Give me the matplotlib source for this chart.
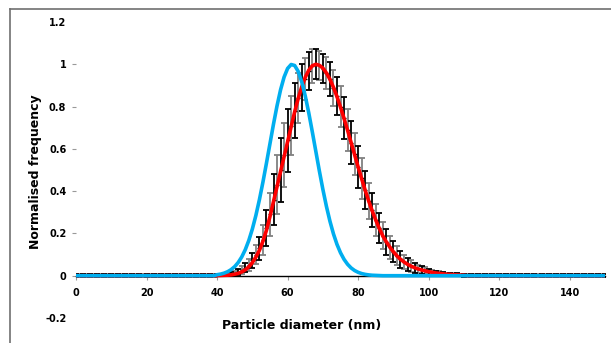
import matplotlib.pyplot as plt
from matplotlib.lines import Line2D

# fitted curves, 1 nm steps from 0 to 150 nm
fit_x = list(range(0, 151))

red_mid = [0.0005, 0.001, 0.0015, 0.0025, 0.004, 0.007, 0.011, 0.018, 0.028, 0.042,
           0.062, 0.088, 0.12, 0.163, 0.215, 0.28, 0.35, 0.42, 0.492, 0.563,
           0.635, 0.707, 0.775, 0.838, 0.893, 0.938, 0.972, 0.993, 1.0, 0.995,
           0.982, 0.959, 0.929, 0.891, 0.847, 0.797, 0.744, 0.688, 0.63, 0.572,
           0.514, 0.458, 0.404, 0.353, 0.306, 0.263, 0.224, 0.188, 0.16, 0.135,
           0.113, 0.094, 0.078, 0.065, 0.054, 0.045, 0.038, 0.032, 0.027, 0.023,
           0.019, 0.016, 0.013, 0.011, 0.009, 0.007, 0.006, 0.005, 0.004, 0.003,
           0.002]
red_fit = [0.0] * 40 + red_mid + [0.0] * 40

blue_mid = [0.0047, 0.0076, 0.0122, 0.019, 0.029, 0.0431, 0.0627, 0.0889, 0.1233, 0.1669,
            0.2207, 0.2849, 0.3593, 0.4425, 0.5322, 0.6252, 0.7172, 0.8035, 0.8791, 0.9393,
            0.9802, 0.9989, 0.9942, 0.9664, 0.9173, 0.8504, 0.77, 0.6808, 0.5879, 0.4958,
            0.4083, 0.3284, 0.258, 0.1979, 0.1482, 0.1085, 0.0775, 0.0541, 0.0368, 0.0245,
            0.016, 0.0101, 0.0063, 0.0038, 0.0022, 0.0013]
blue_fit = [0.0] * 40 + blue_mid + [0.0] * 65

# measured distribution with error bars
data_mid = [0.002, 0.003, 0.004, 0.006, 0.008, 0.012, 0.018, 0.026, 0.038, 0.052,
            0.072, 0.10, 0.13, 0.17, 0.225, 0.29, 0.36, 0.43, 0.50, 0.57,
            0.64, 0.71, 0.78, 0.84, 0.89, 0.93, 0.97, 0.99, 1.0, 0.995,
            0.98, 0.96, 0.93, 0.89, 0.85, 0.80, 0.745, 0.69, 0.63, 0.575,
            0.515, 0.46, 0.405, 0.355, 0.31, 0.265, 0.225, 0.19, 0.16, 0.135,
            0.113, 0.094, 0.078, 0.065, 0.054, 0.045, 0.038, 0.032, 0.027, 0.023,
            0.019, 0.016, 0.013, 0.011, 0.009, 0.007, 0.006, 0.005, 0.004, 0.003,
            0.002]
err_mid = [0.004, 0.005, 0.006, 0.007, 0.009, 0.011, 0.014, 0.018, 0.022, 0.028,
           0.035, 0.045, 0.055, 0.07, 0.085, 0.10, 0.12, 0.14, 0.15, 0.15,
           0.15, 0.14, 0.13, 0.12, 0.11, 0.10, 0.09, 0.08, 0.07, 0.07,
           0.07, 0.075, 0.08, 0.085, 0.09, 0.095, 0.10, 0.10, 0.10, 0.10,
           0.10, 0.095, 0.09, 0.085, 0.08, 0.075, 0.07, 0.065, 0.06, 0.055,
           0.05, 0.045, 0.04, 0.035, 0.03, 0.027, 0.024, 0.021, 0.018, 0.016,
           0.014, 0.012, 0.011, 0.010, 0.009, 0.008, 0.008, 0.007, 0.007, 0.006,
           0.006]
data_y = [0.0] * 40 + data_mid + [0.0] * 40
data_err = [0.006] * 40 + err_mid + [0.006] * 40

xticks = [0, 20, 40, 60, 80, 100, 120, 140]
yticks = [-0.2, 0, 0.2, 0.4, 0.6, 0.8, 1, 1.2]
ytick_labels = ["-0.2", "0", "0.2", "0.4", "0.6", "0.8", "1", "1.2"]

fig = plt.figure(figsize=(6.11, 3.43), dpi=100)
ax = fig.add_axes([0.1244, 0.0729, 0.8658, 0.863])

# alternate black / grey bars like the original
xb = fit_x[0::2]
yb = data_y[0::2]
eb = data_err[0::2]
xg = fit_x[1::2]
yg = data_y[1::2]
eg = data_err[1::2]
ax.errorbar(xg, yg, yerr=eg, fmt="none", ecolor="#808080", elinewidth=1.3,
            capsize=2, capthick=1.3, zorder=2)
ax.errorbar(xb, yb, yerr=eb, fmt="none", ecolor="black", elinewidth=1.3,
            capsize=2, capthick=1.3, zorder=2)
ax.plot(fit_x, data_y, linestyle="none", marker="_", color="black",
        markersize=3, zorder=2)

ax.plot(fit_x, red_fit, color="#ff0000", lw=2.6, zorder=3)
ax.plot(fit_x, blue_fit, color="#00aeef", lw=2.6, zorder=4)

ax.set_xlim(0, 150)
ax.set_ylim(-0.2, 1.2)
for s in ["top", "right", "left"]:
    ax.spines[s].set_visible(False)
ax.spines["bottom"].set_position(("data", 0))
ax.spines["bottom"].set_color("black")
ax.spines["bottom"].set_linewidth(1.0)

ax.set_xticks(xticks)
ax.set_xticklabels([str(t) for t in xticks], fontsize=7, fontweight="bold")
ax.set_yticks(yticks)
ax.set_yticklabels(ytick_labels, fontsize=7, fontweight="bold")
ax.tick_params(axis="x", direction="out", length=3, color="#999999", pad=6)
ax.tick_params(axis="y", direction="out", length=3, color="#999999", pad=4)
ax.yaxis.get_major_ticks()[0].tick1line.set_visible(False)
ax.yaxis.get_major_ticks()[-1].tick1line.set_visible(False)

fig.text(0.493, 0.052, "Particle diameter (nm)", ha="center", va="center",
         fontsize=9, fontweight="bold")
fig.text(0.058, 0.50, "Normalised frequency", ha="center", va="center",
         rotation=90, fontsize=9, fontweight="bold")

# grey frame on the top and left of the picture
fig.add_artist(Line2D([10 / 611, 1], [1 - 9 / 343, 1 - 9 / 343],
                      color="#707070", lw=1.2, transform=fig.transFigure))
fig.add_artist(Line2D([10 / 611, 10 / 611], [0, 1 - 9 / 343],
                      color="#707070", lw=1.2, transform=fig.transFigure))

plt.savefig("out.png", dpi=100)
